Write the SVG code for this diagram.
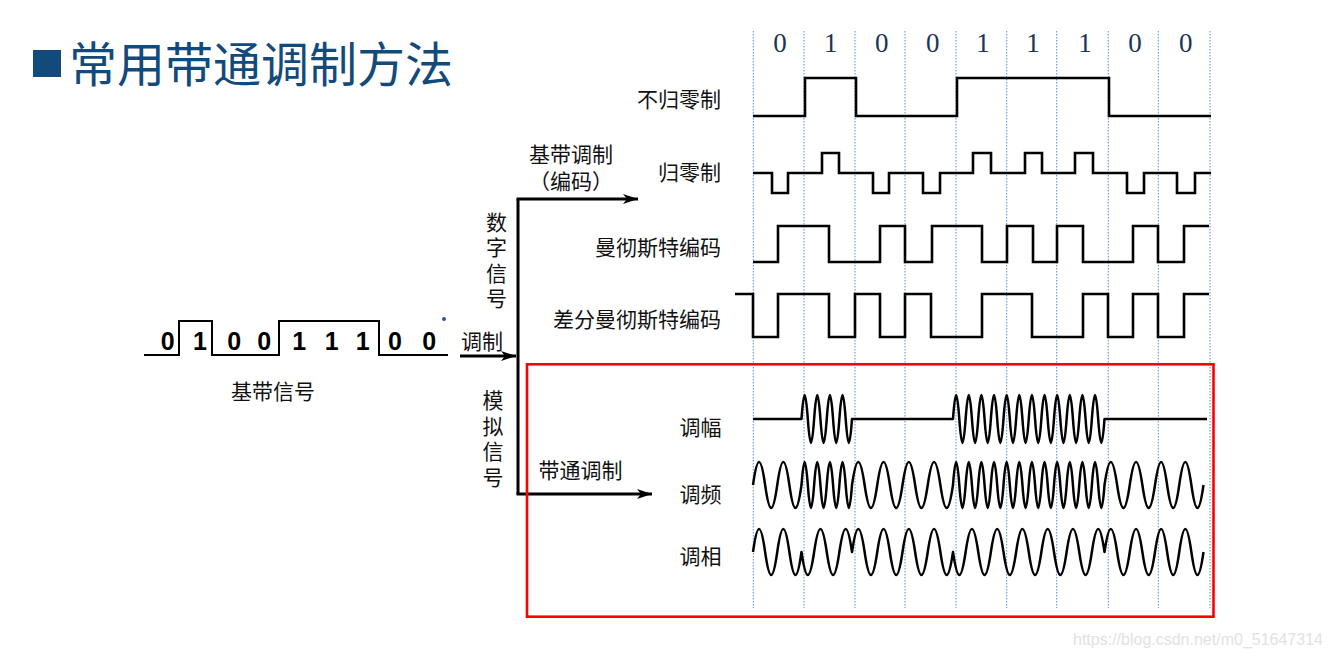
<svg xmlns="http://www.w3.org/2000/svg" width="1330" height="657" viewBox="0 0 1330 657">
<style>
.lbl{font-family:"Noto Sans CJK SC","Noto Sans",sans-serif;font-size:21px;fill:#111}
.vlbl{font-family:"Noto Sans CJK SC","Noto Sans",sans-serif;font-size:21px;fill:#111;writing-mode:vertical-rl;letter-spacing:4.5px}
.wave{fill:none;stroke:#000;stroke-width:2.6;stroke-linejoin:miter}
.sine{fill:none;stroke:#000;stroke-width:2.5;stroke-linejoin:round}
.grid{stroke:#5b8fd6;stroke-width:1;stroke-dasharray:1.5 1.5}
.conn{fill:none;stroke:#000;stroke-width:3}
.bit{font-family:"Liberation Serif",serif;font-size:27px;fill:#1a3558;text-anchor:middle}
.bbit{font-family:"Liberation Sans",sans-serif;font-size:25px;font-weight:bold;fill:#000;text-anchor:middle}
</style>
<defs>
<marker id="arr" viewBox="0 0 15 10" refX="15" refY="5" markerWidth="15" markerHeight="10" markerUnits="userSpaceOnUse" orient="auto">
<path d="M0,0 L15,5 L0,10 L4,5 z" fill="#000"/>
</marker>
</defs>
<rect width="1330" height="657" fill="#fff"/>

<g id="title">
<rect x="33" y="50" width="28" height="27" fill="#134a7c"/>
<text x="69" y="81.5" font-family="Noto Sans CJK SC, sans-serif" font-size="48" fill="#134a7c">常用带通调制方法</text>
</g>

<g id="grid">
<line class="grid" x1="753.3" y1="31" x2="753.3" y2="608"/>
<line class="grid" x1="804" y1="31" x2="804" y2="608"/>
<line class="grid" x1="855" y1="31" x2="855" y2="608"/>
<line class="grid" x1="905" y1="31" x2="905" y2="608"/>
<line class="grid" x1="956" y1="31" x2="956" y2="608"/>
<line class="grid" x1="1006.7" y1="31" x2="1006.7" y2="608"/>
<line class="grid" x1="1056.7" y1="31" x2="1056.7" y2="608"/>
<line class="grid" x1="1108.3" y1="31" x2="1108.3" y2="608"/>
<line class="grid" x1="1158.3" y1="31" x2="1158.3" y2="608"/>
<line class="grid" x1="1210" y1="31" x2="1210" y2="608"/>
</g>

<g id="bits-top">
<text class="bit" y="52"><tspan x="780">0</tspan><tspan x="830.7">1</tspan><tspan x="881.7">0</tspan><tspan x="932.7">0</tspan><tspan x="983">1</tspan><tspan x="1033">1</tspan><tspan x="1085">1</tspan><tspan x="1135">0</tspan><tspan x="1185.7">0</tspan></text>
</g>

<g id="nrz">
<text class="lbl" x="721" y="106.7" text-anchor="end">不归零制</text>
<path class="wave" d="M753,116 H805 V78 H856 V116 H957 V78 H1109 V116 H1211"/>
</g>
<g id="rz">
<text class="lbl" x="721" y="180" text-anchor="end">归零制</text>
<path class="wave" d="M753,173 H772 V193 H788 V173 H822 V153 H839 V173 H873 V193 H889 V173 H923 V193 H940 V173 H973 V153 H991 V173 H1025 V153 H1042 V173 H1075 V153 H1093 V173 H1127 V193 H1144 V173 H1177 V193 H1195 V173 H1211"/>
</g>
<g id="manchester">
<text class="lbl" x="721" y="254.7" text-anchor="end">曼彻斯特编码</text>
<path class="wave" d="M753,262 H778 V226 H829 V262 H880 V226 H905 V262 H932 V226 H982 V262 H1007 V226 H1033 V262 H1057 V226 H1083 V262 H1133 V226 H1158 V262 H1184 V226 H1209"/>
</g>
<g id="diff-manchester">
<text class="lbl" x="721" y="326.7" text-anchor="end">差分曼彻斯特编码</text>
<path class="wave" d="M735,294 H753 V337 H778 V294 H829 V337 H855 V294 H880 V337 H905 V294 H931 V337 H982 V294 H1032 V337 H1083 V294 H1108 V337 H1133 V294 H1158 V337 H1184 V294 H1209"/>
</g>

<g id="am">
<text class="lbl" x="679.5" y="434.7">调幅</text>
<path class="sine" d="M753,419 H801.5 c2.2725,-32 4.04,-32 6.3125,0 s4.04,32 6.3125,0 s4.04,-32 6.3125,0 s4.04,32 6.3125,0 s4.04,-32 6.3125,0 s4.04,32 6.3125,0 s4.04,-32 6.3125,0 s4.04,32 6.3125,0 H953 c2.2725,-32 4.04,-32 6.3125,0 s4.04,32 6.3125,0 s4.04,-32 6.3125,0 s4.04,32 6.3125,0 s4.04,-32 6.3125,0 s4.04,32 6.3125,0 s4.04,-32 6.3125,0 s4.04,32 6.3125,0 s4.04,-32 6.3125,0 s4.04,32 6.3125,0 s4.04,-32 6.3125,0 s4.04,32 6.3125,0 s4.04,-32 6.3125,0 s4.04,32 6.3125,0 s4.04,-32 6.3125,0 s4.04,32 6.3125,0 s4.04,-32 6.3125,0 s4.04,32 6.3125,0 s4.04,-32 6.3125,0 s4.04,32 6.3125,0 s4.04,-32 6.3125,0 s4.04,32 6.3125,0 s4.04,-32 6.3125,0 s4.04,32 6.3125,0 H1207"/>
</g>
<g id="fm">
<text class="lbl" x="679.5" y="501.7">调频</text>
<path class="sine" d="M753,485 c4.365,-30.67 7.76,-30.67 12.125,0 s7.76,30.67 12.125,0 s7.76,-30.67 12.125,0 s7.76,30.67 12.125,0 c2.2725,-30.67 4.04,-30.67 6.3125,0 s4.04,30.67 6.3125,0 s4.04,-30.67 6.3125,0 s4.04,30.67 6.3125,0 s4.04,-30.67 6.3125,0 s4.04,30.67 6.3125,0 s4.04,-30.67 6.3125,0 s4.04,30.67 6.3125,0 c4.545,-30.67 8.08,-30.67 12.625,0 s8.08,30.67 12.625,0 s8.08,-30.67 12.625,0 s8.08,30.67 12.625,0 s8.08,-30.67 12.625,0 s8.08,30.67 12.625,0 s8.08,-30.67 12.625,0 s8.08,30.67 12.625,0 c2.2725,-30.67 4.04,-30.67 6.3125,0 s4.04,30.67 6.3125,0 s4.04,-30.67 6.3125,0 s4.04,30.67 6.3125,0 s4.04,-30.67 6.3125,0 s4.04,30.67 6.3125,0 s4.04,-30.67 6.3125,0 s4.04,30.67 6.3125,0 s4.04,-30.67 6.3125,0 s4.04,30.67 6.3125,0 s4.04,-30.67 6.3125,0 s4.04,30.67 6.3125,0 s4.04,-30.67 6.3125,0 s4.04,30.67 6.3125,0 s4.04,-30.67 6.3125,0 s4.04,30.67 6.3125,0 s4.04,-30.67 6.3125,0 s4.04,30.67 6.3125,0 s4.04,-30.67 6.3125,0 s4.04,30.67 6.3125,0 s4.04,-30.67 6.3125,0 s4.04,30.67 6.3125,0 s4.04,-30.67 6.3125,0 s4.04,30.67 6.3125,0 c4.545,-30.67 8.08,-30.67 12.625,0 s8.08,30.67 12.625,0 s8.08,-30.67 12.625,0 s8.08,30.67 12.625,0 s7.76,-30.67 12.125,0 s7.76,30.67 12.125,0 s7.76,-30.67 12.125,0 s7.76,30.67 12.125,0"/>
</g>
<g id="psk">
<text class="lbl" x="679.5" y="563.7">调相</text>
<path class="sine" d="M753,552 c4.365,-30.67 7.76,-30.67 12.125,0 s7.76,30.67 12.125,0 s7.76,-30.67 12.125,0 s7.76,30.67 12.125,0 c4.545,30.67 8.08,30.67 12.625,0 s8.08,-30.67 12.625,0 s8.08,30.67 12.625,0 s8.08,-30.67 12.625,0 c4.545,-30.67 8.08,-30.67 12.625,0 s8.08,30.67 12.625,0 s8.08,-30.67 12.625,0 s8.08,30.67 12.625,0 s8.08,-30.67 12.625,0 s8.08,30.67 12.625,0 s8.08,-30.67 12.625,0 s8.08,30.67 12.625,0 c4.545,30.67 8.08,30.67 12.625,0 s8.08,-30.67 12.625,0 s8.08,30.67 12.625,0 s8.08,-30.67 12.625,0 s8.08,30.67 12.625,0 s8.08,-30.67 12.625,0 s8.08,30.67 12.625,0 s8.08,-30.67 12.625,0 s8.08,30.67 12.625,0 s8.08,-30.67 12.625,0 s8.08,30.67 12.625,0 s8.08,-30.67 12.625,0 c4.545,-30.67 8.08,-30.67 12.625,0 s8.08,30.67 12.625,0 s8.08,-30.67 12.625,0 s8.08,30.67 12.625,0 s7.76,-30.67 12.125,0 s7.76,30.67 12.125,0 s7.76,-30.67 12.125,0 s7.76,30.67 12.125,0"/>
</g>

<g id="baseband">
<path fill="none" stroke="#000" stroke-width="2" d="M144,355 H179 V321 H212 V355 H279 V321 H379 V355 H448"/>
<text class="bbit" y="350"><tspan x="167.7">0</tspan><tspan x="200">1</tspan><tspan x="234.3">0</tspan><tspan x="264.3">0</tspan><tspan x="299.3">1</tspan><tspan x="331.7">1</tspan><tspan x="362.7">1</tspan><tspan x="395">0</tspan><tspan x="429.3">0</tspan></text>
<circle cx="444" cy="319" r="2" fill="#2f5597"/>
<text class="lbl" x="231" y="398.7">基带信号</text>
</g>

<g id="labels">
<text class="lbl" x="529" y="161.7">基带调制</text>
<text class="lbl" x="529" y="189">（编码）</text>
<text class="vlbl" x="496.5" y="211.5">数字信号</text>
<text class="lbl" x="461" y="349.2">调制</text>
<text class="vlbl" x="493" y="390">模拟信号</text>
<text class="lbl" x="538.5" y="477.7">带通调制</text>
</g>

<g id="connectors">
<path class="conn" d="M518,199 V494"/>
<path class="conn" d="M516.5,199 H638" marker-end="url(#arr)"/>
<path class="conn" d="M516.5,494 H652" marker-end="url(#arr)"/>
<path class="conn" d="M460,356 H516" marker-end="url(#arr)"/>
</g>

<g id="bandpass-box">
<rect x="527" y="364.3" width="686.5" height="252.4" fill="none" stroke="#ff0000" stroke-width="2.6"/>
</g>

<text x="1073" y="645" font-family="Liberation Sans, sans-serif" font-size="16" fill="#e2e2e2">https://blog.csdn.net/m0_51647314</text>
</svg>
